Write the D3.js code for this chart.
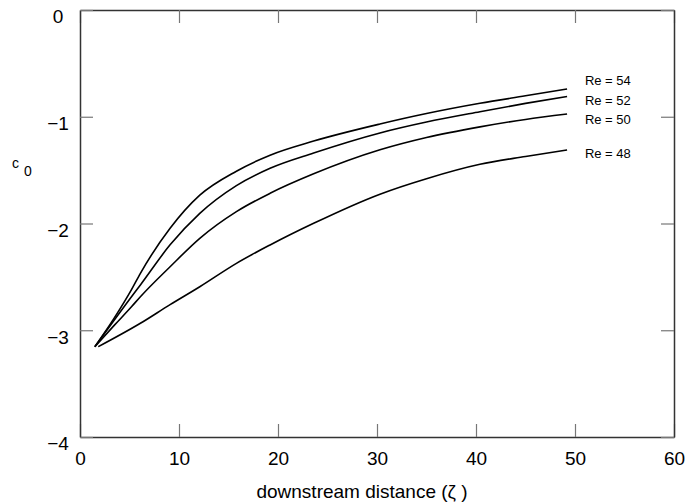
<!DOCTYPE html>
<html>
<head>
<meta charset="utf-8">
<script src="https://cdn.jsdelivr.net/npm/d3@7"></script>
<style>
  body { margin: 0; background: #fff; }
  svg { display: block; font-family: "Liberation Sans", Arial, Helvetica, sans-serif; }
</style>
</head>
<body>
<div id="chart"></div>
<script>
// downstream distance (zeta) grid shared by Re = 54, 52, 50
var zeta = [1.5, 3.5, 5.2, 6.1, 9.1, 12.1, 15.8, 19.2, 23.6, 30.3, 35, 40.4, 45, 49.2];
var c54 = [-3.154, -2.88, -2.62, -2.467, -2.045, -1.735, -1.51, -1.36, -1.228, -1.068, -0.97, -0.874, -0.804, -0.74];
var c52 = [-3.154, -2.90, -2.686, -2.576, -2.20, -1.905, -1.645, -1.483, -1.34, -1.152, -1.05, -0.953, -0.875, -0.81];
var c50 = [-3.154, -2.95, -2.78, -2.686, -2.405, -2.139, -1.889, -1.717, -1.535, -1.31, -1.195, -1.095, -1.025, -0.974];
// Re = 48 starts a bit further downstream
var zeta48 = [1.85, 6.1, 9.1, 12.1, 15.8, 19.2, 23.6, 30.3, 35, 40.4, 45, 49.2];
var c48 = [-3.154, -2.935, -2.76, -2.592, -2.373, -2.201, -1.998, -1.725, -1.58, -1.445, -1.372, -1.311];

var reLabels = ['Re = 54', 'Re = 52', 'Re = 50', 'Re = 48'];
var labelC = [-0.656, -0.843, -1.021, -1.34];
var xTicks = [0, 10, 20, 30, 40, 50, 60];
var yTicks = [0, -1, -2, -3, -4];

var width = 693, height = 504;
var margin = {top: 10, right: 19, bottom: 67, left: 80};
var w = width - margin.left - margin.right;
var h = height - margin.top - margin.bottom;

var svg = d3.select('#chart')
    .append('svg')
    .attr('width', width)
    .attr('height', height);

var g = svg.append('g')
    .attr('transform', 'translate(' + margin.left + ',' + margin.top + ')');

var x = d3.scaleLinear().domain([0, 60]).range([0, w]);
var y = d3.scaleLinear().domain([-4, 0]).range([h, 0]);
var fmt = d3.format('d');

// ticks on all four sides, pointing in
g.append('g')
    .attr('class', 'axis')
    .attr('transform', 'translate(0,' + h + ')')
    .call(d3.axisBottom(x).tickValues(xTicks).tickFormat(fmt).tickSize(-13).tickPadding(14.5).tickSizeOuter(0));
g.append('g')
    .attr('class', 'axis')
    .call(d3.axisTop(x).tickValues(xTicks).tickSize(-13).tickFormat('').tickSizeOuter(0));
g.append('g')
    .attr('class', 'axis left')
    .call(d3.axisLeft(y).tickValues(yTicks).tickFormat(fmt).tickSize(-13).tickSizeOuter(0));
g.append('g')
    .attr('class', 'axis')
    .attr('transform', 'translate(' + w + ',0)')
    .call(d3.axisRight(y).tickValues(yTicks).tickSize(-13).tickFormat('').tickSizeOuter(0));

g.selectAll('.axis .domain')
    .attr('stroke', '#333')
    .attr('stroke-width', 1.5);
g.selectAll('.axis .tick line')
    .attr('stroke', '#777')
    .attr('stroke-width', 1.2);
g.selectAll('.axis text')
    .attr('font-size', 19)
    .attr('fill', '#000');
g.selectAll('.axis.left text')
    .attr('text-anchor', 'middle')
    .attr('x', -22)
    .attr('dy', '0.68em');

// curves
var series = [
    {xs: zeta, cs: c54},
    {xs: zeta, cs: c52},
    {xs: zeta, cs: c50},
    {xs: zeta48, cs: c48}
];
var line = d3.line()
    .x(function(d){ return x(d[0]) })
    .y(function(d){ return y(d[1]) })
    .curve(d3.curveMonotoneX);

g.selectAll('path.curve')
    .data(series)
    .enter()
    .append('path')
    .attr('class', 'curve')
    .attr('fill', 'none')
    .attr('stroke', '#000')
    .attr('stroke-width', 1.6)
    .attr('d', function(s){ return line(s.xs.map(function(v, i){ return [v, s.cs[i]] })) });

g.selectAll('text.re')
    .data(reLabels)
    .enter()
    .append('text')
    .attr('class', 're')
    .attr('x', x(51))
    .attr('y', function(d, i){ return y(labelC[i]) })
    .attr('dy', '0.35em')
    .attr('font-size', 13)
    .text(function(d){ return d });

// axis titles
svg.append('text')
    .attr('x', 362)
    .attr('y', 498)
    .attr('text-anchor', 'middle')
    .attr('font-size', 19)
    .text('downstream distance (\u03B6 )');

var yl = svg.append('text')
    .attr('x', 12)
    .attr('y', 168)
    .attr('font-size', 14);
yl.append('tspan').text('c');
yl.append('tspan').attr('dx', 5).attr('dy', 8).text('0');
</script>
</body>
</html>
